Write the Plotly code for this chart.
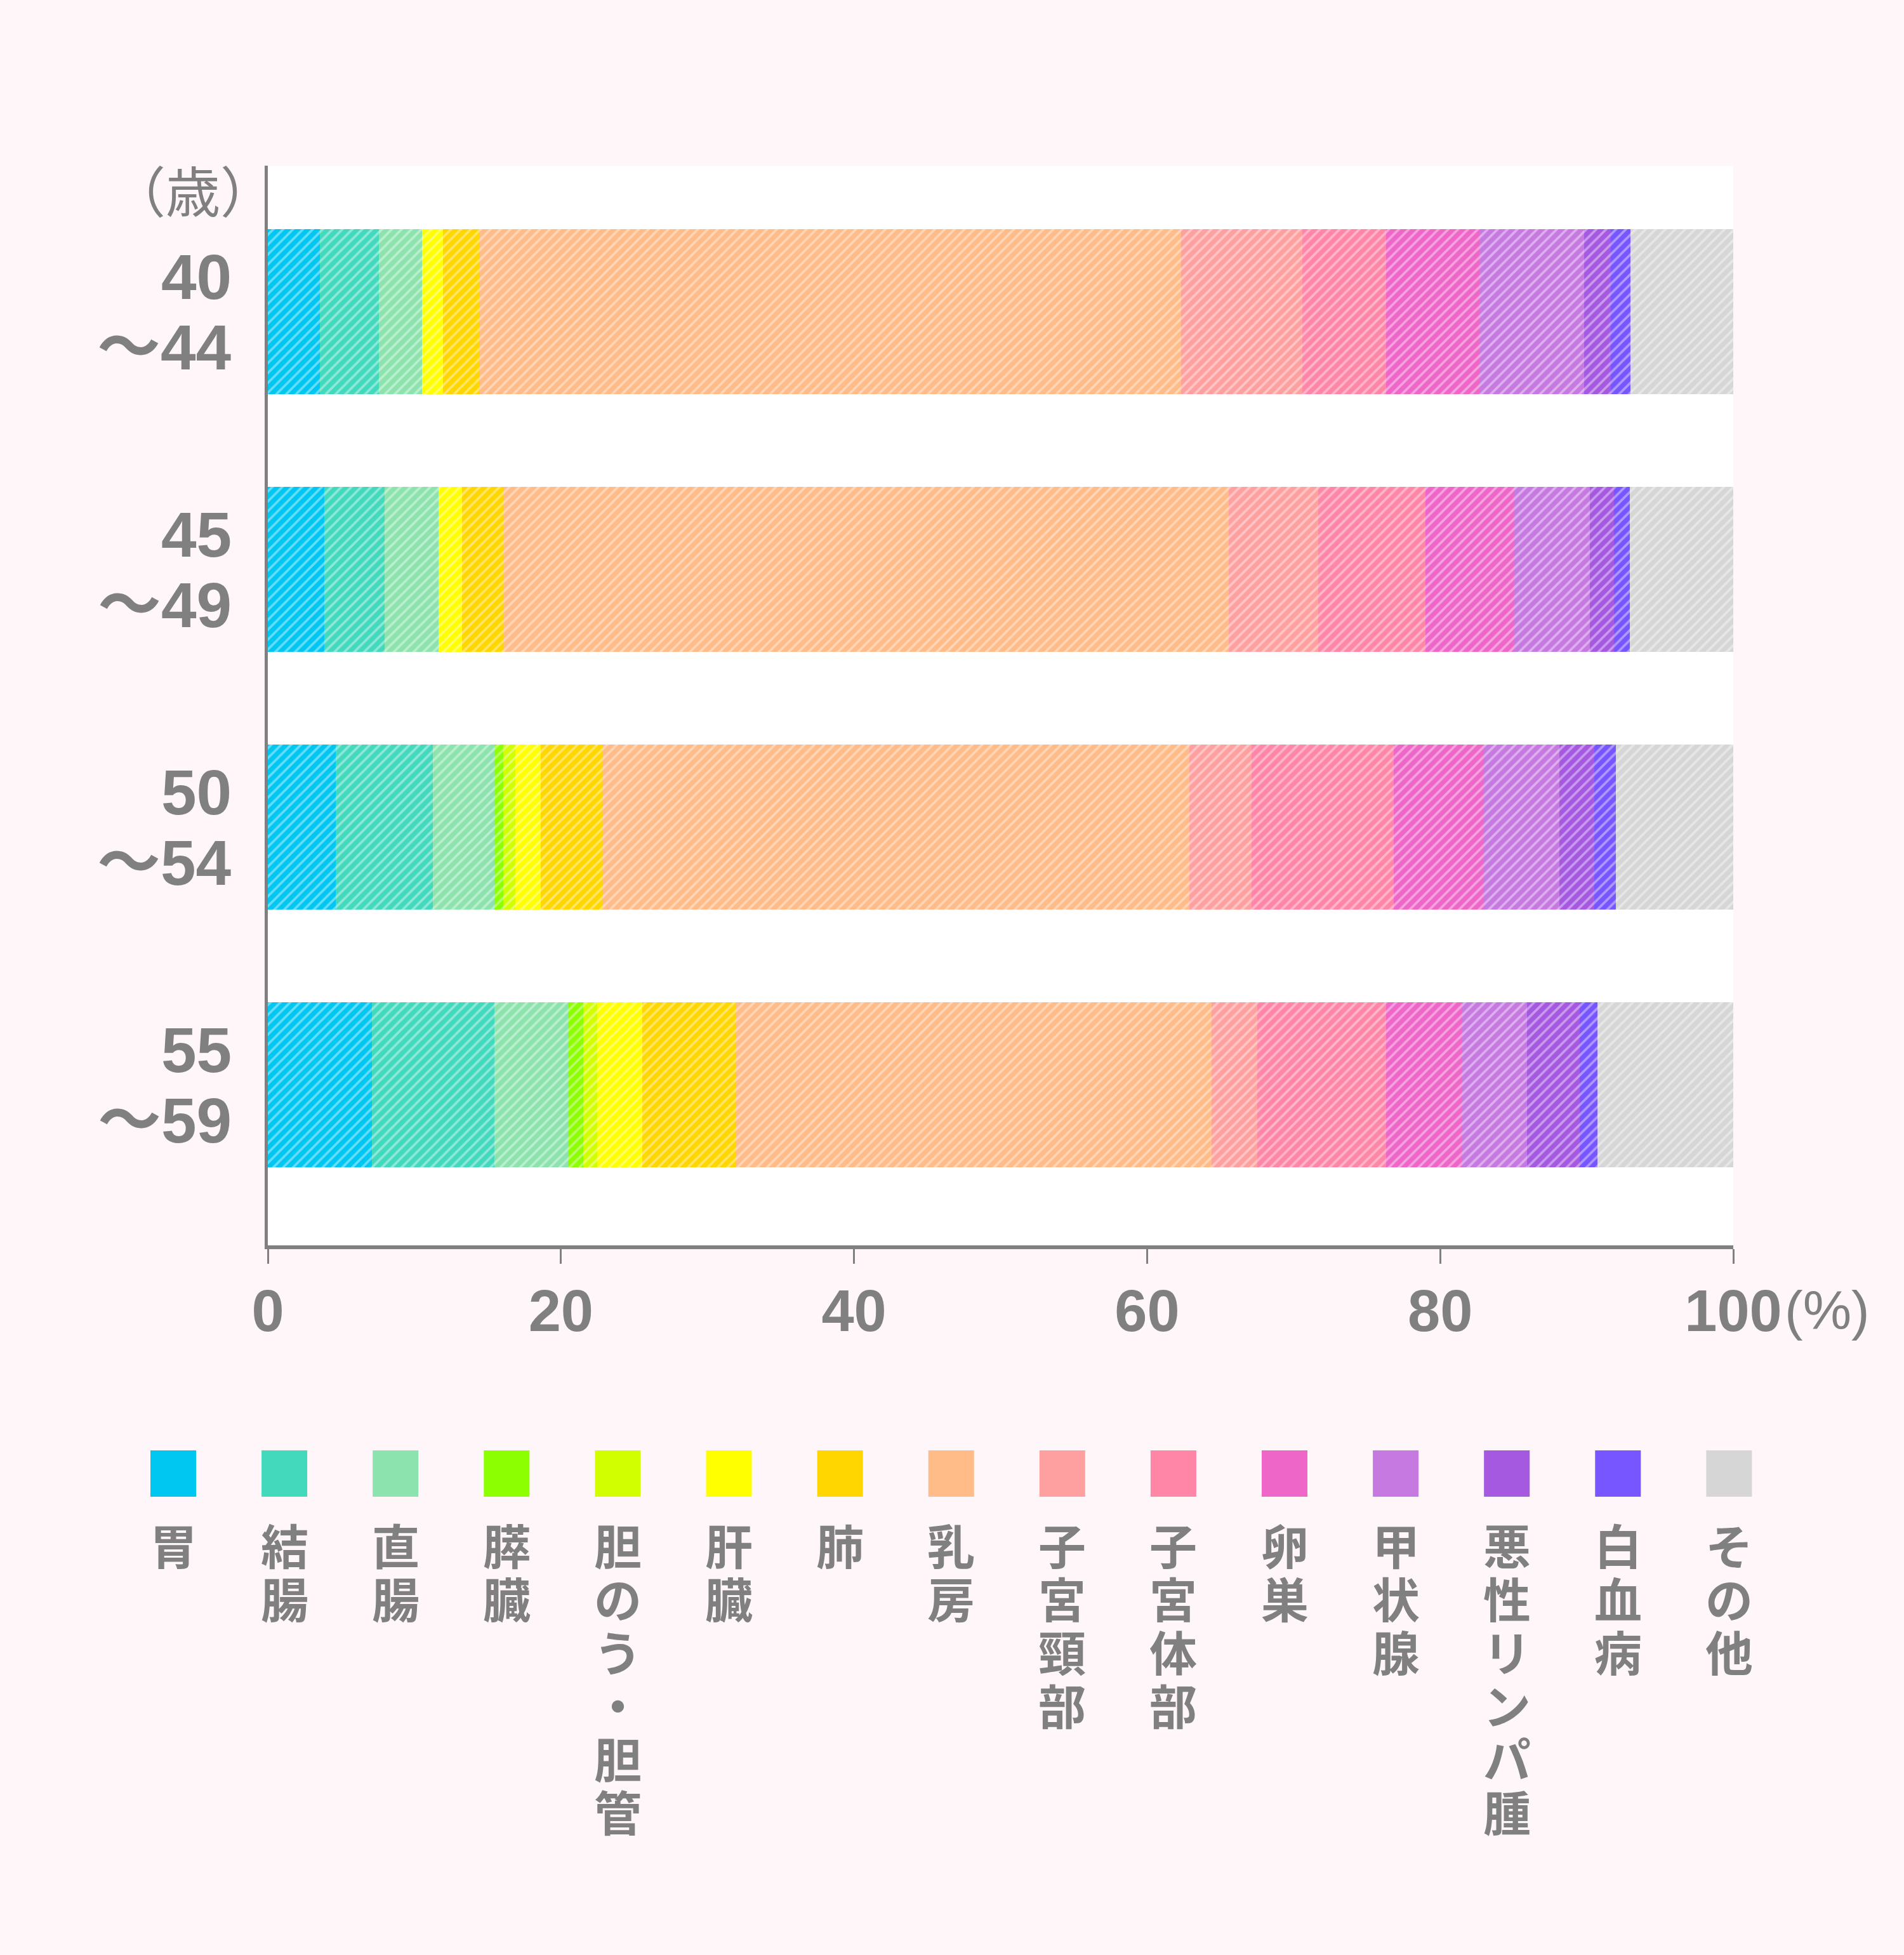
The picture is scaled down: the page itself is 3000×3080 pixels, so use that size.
import plotly.graph_objects as go

# ---------------- data ----------------
ages = ["40～44", "45～49", "50～54", "55～59"]
age_top = ["40", "45", "50", "55"]
age_bottom = ["～44", "～49", "～54", "～59"]

cancers = ["胃", "結腸", "直腸", "膵臓", "胆のう・胆管", "肝臓", "肺", "乳房",
           "子宮頸部", "子宮体部", "卵巣", "甲状腺", "悪性リンパ腫", "白血病", "その他"]

stomach = [3.56, 3.84, 4.62, 7.10]
colon = [4.01, 4.15, 6.62, 8.35]
rectum = [2.95, 3.64, 4.23, 5.04]
pancreas = [0.0, 0.0, 0.58, 1.03]
gallbladder = [0.0, 0.0, 0.86, 0.95]
liver = [1.42, 1.61, 1.70, 3.09]
lung = [2.50, 2.84, 4.26, 6.35]
breast = [47.86, 49.49, 40.03, 32.49]
cervix = [8.30, 6.09, 4.25, 3.12]
uterus = [5.69, 7.35, 9.67, 8.79]
ovary = [6.40, 6.00, 6.15, 5.20]
thyroid = [7.13, 5.20, 5.17, 4.41]
lymphoma = [1.84, 1.65, 2.36, 3.61]
leukemia = [1.32, 1.10, 1.50, 1.20]
other = [7.04, 7.04, 7.99, 9.30]

series = [stomach, colon, rectum, pancreas, gallbladder, liver, lung, breast,
          cervix, uterus, ovary, thyroid, lymphoma, leukemia, other]

colors = ["#00C6F2", "#42D9BD", "#8DE3AD", "#8CFF00", "#D2FF00", "#FFFF00", "#FFD600",
          "#FFBB88", "#FFA0A0", "#FF86A6", "#EE66C8", "#C679E0", "#A558E0", "#7755FF", "#D6D6D6"]

x_ticks = [0, 20, 40, 60, 80, 100]

# ---------------- layout helpers (pixel -> paper) ----------------
W, H = 3000, 3080
L, R, T, B = 422, 2731, 261, 1962
BG = "#FFF6FA"


def px_x(x):
    return (x - L) / (R - L)


def px_y(y):
    return (B - y) / (B - T)


GRAY = "#808080"
LAT = "Liberation Sans, Arial, Noto Sans CJK JP, sans-serif"
CJK = "Noto Sans CJK JP, sans-serif"

fig = go.Figure()
for name, col, vals in zip(cancers, colors, series):
    fig.add_trace(go.Bar(
        y=ages, x=vals, orientation="h", name=name, showlegend=False,
        marker=dict(color=col, line=dict(width=0),
                    pattern=dict(shape="/", fgcolor="white", fgopacity=0.4,
                                 size=11, solidity=0.33)),
    ))

annotations = []
shapes = []

# y category labels (two lines)
for a, top, bot in zip(ages, age_top, age_bottom):
    annotations.append(dict(x=px_x(367), xref="paper", y=a, yref="y", yshift=55,
                            text=top, showarrow=False, xanchor="right", yanchor="middle",
                            font=dict(family=LAT, size=100, color=GRAY, weight=700)))
    annotations.append(dict(x=px_x(367), xref="paper", y=a, yref="y", yshift=-56,
                            text=bot, showarrow=False, xanchor="right", yanchor="middle",
                            font=dict(family=LAT, size=100, color=GRAY, weight=700)))

# unit labels
annotations.append(dict(x=px_x(304), y=px_y(298), xref="paper", yref="paper",
                        text="（歳）", showarrow=False, xanchor="center", yanchor="middle",
                        font=dict(family=CJK, size=86, color=GRAY)))
annotations.append(dict(x=px_x(2810), y=px_y(2064), xref="paper", yref="paper",
                        text="(%)", showarrow=False, xanchor="left", yanchor="middle",
                        font=dict(family=LAT, size=86, color=GRAY)))

# legend: squares + vertical text (one text per label, stacked characters)
STEP = 84
for i, (name, col) in enumerate(zip(cancers, colors)):
    xc = 273 + i * 175.1
    shapes.append(dict(type="rect", xref="paper", yref="paper",
                       x0=px_x(xc - 36), x1=px_x(xc + 36),
                       y0=px_y(2358), y1=px_y(2285),
                       fillcolor=col, line=dict(width=0)))
    vtext = "<br>".join("<span style='font-size:75px'>" + ch + "</span>" for ch in name)
    ymid = 2432 + (len(name) - 1) * STEP / 2
    annotations.append(dict(x=px_x(xc), y=px_y(ymid), xref="paper", yref="paper",
                            text=vtext, showarrow=False, xanchor="center", yanchor="middle",
                            align="center",
                            font=dict(family=CJK, size=STEP / 1.3, color=GRAY, weight=700)))

fig.update_layout(
    width=W, height=H,
    margin=dict(l=L, r=W - R, t=T, b=H - B, pad=0),
    paper_bgcolor=BG, plot_bgcolor="white",
    barmode="stack", bargap=0.36,
    annotations=annotations, shapes=shapes,
    xaxis=dict(range=[0, 100], tickvals=x_ticks, ticktext=[str(v) for v in x_ticks],
               ticks="outside", ticklen=23, tickwidth=3, tickcolor=GRAY,
               showline=True, linewidth=6, linecolor=GRAY,
               showgrid=False, zeroline=False, ticklabelstandoff=-4,
               tickfont=dict(family=LAT, size=92, color=GRAY, weight=700)),
    yaxis=dict(type="category", categoryorder="array", categoryarray=ages,
               range=[3.623, -0.566], showticklabels=False, ticks="",
               showline=True, linewidth=5, linecolor=GRAY,
               showgrid=False, zeroline=False),
)

fig.write_html("out.html", config={"displayModeBar": False},
               post_script="document.body.style.margin='0';"
                           "document.body.style.background='" + BG + "';")
